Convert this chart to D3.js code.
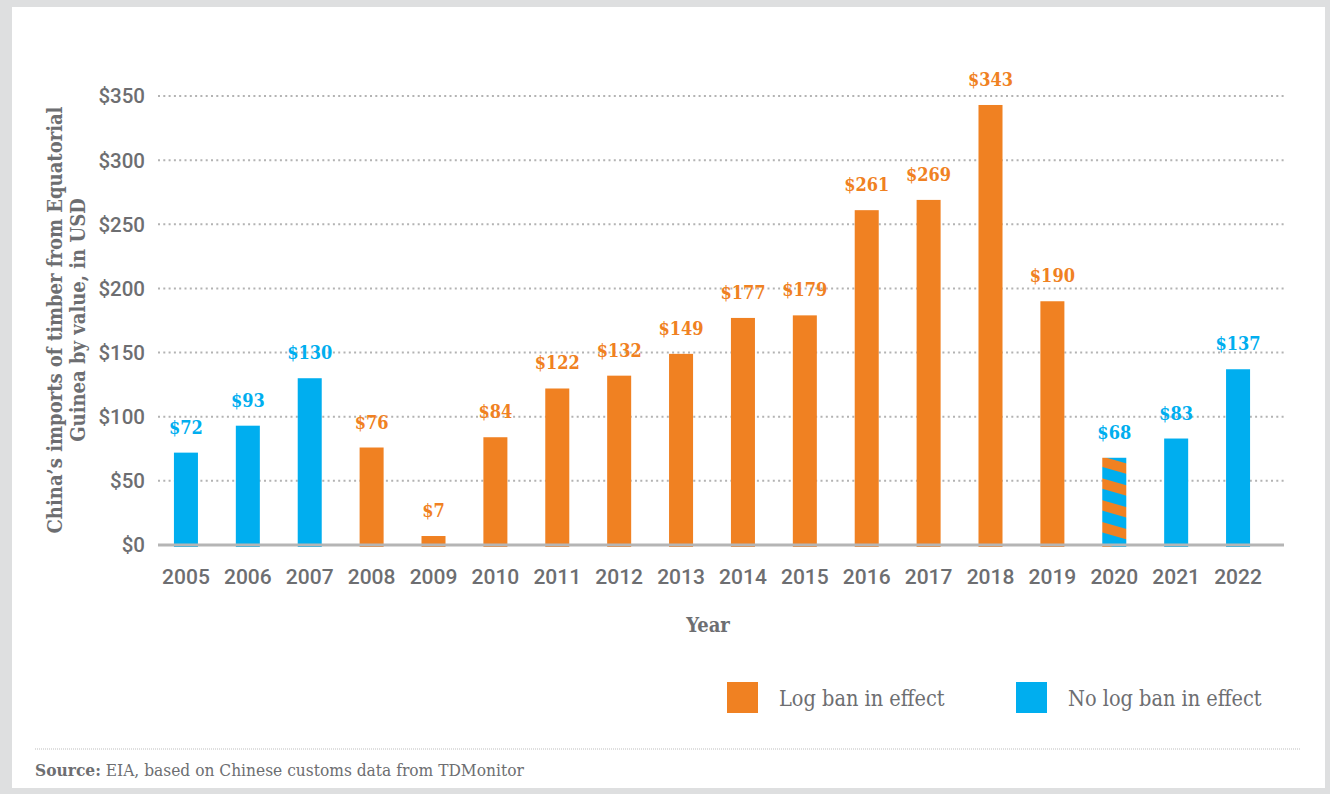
<!DOCTYPE html>
<html>
<head>
<meta charset="utf-8">
<script src="https://cdn.jsdelivr.net/npm/d3@7"></script>
<style>
  html, body { margin: 0; padding: 0; background: #dedfe0; }
  svg { display: block; }
</style>
</head>
<body>
<svg id="chart" width="1330" height="794"></svg>
<script>
// Chinese timber imports from Equatorial Guinea, USD
const years = ["2005","2006","2007","2008","2009","2010","2011","2012","2013","2014","2015","2016","2017","2018","2019","2020","2021","2022"];
const values = [72, 93, 130, 76, 7, 84, 122, 132, 149, 177, 179, 261, 269, 343, 190, 68, 83, 137];
// "ban" = log ban in effect, "none" = no log ban, "mixed" = ban lifted during the year
const status = ["none","none","none","ban","ban","ban","ban","ban","ban","ban","ban","ban","ban","ban","ban","mixed","none","none"];
const yTicks = [0, 50, 100, 150, 200, 250, 300, 350];
const legendItems = [
  { key: "ban", label: "Log ban in effect" },
  { key: "none", label: "No log ban in effect" }
];

const ORANGE = "#f08122";
const BLUE = "#00aeef";
const GREY_TEXT = "#6d6e71";
const SLAB = "'DejaVu Serif Condensed', 'DejaVu Serif', serif";
const SANS = "Roboto, 'Noto Sans', sans-serif";

const svg = d3.select("#chart");

// card background inside the grey frame
svg.append("rect").attr("x", 12).attr("y", 7).attr("width", 1313).attr("height", 781).attr("fill", "#ffffff");

// striped fill for the transition year
const defs = svg.append("defs");
const pat = defs.append("pattern")
  .attr("id", "stripes")
  .attr("patternUnits", "userSpaceOnUse")
  .attr("width", 40).attr("height", 21)
  .attr("patternTransform", "rotate(16)");
pat.append("rect").attr("width", 40).attr("height", 21).attr("fill", BLUE);
pat.append("rect").attr("y", 9).attr("width", 40).attr("height", 10).attr("fill", ORANGE);

const x = d3.scaleBand().domain(years).range([155, 1269]).paddingInner(0.612).paddingOuter(0.306);
const y = d3.scaleLinear().domain([0, 350]).range([545, 96]);

const colorFor = s => s === "ban" ? ORANGE : s === "none" ? BLUE : "url(#stripes)";
const labelColor = s => s === "ban" ? ORANGE : BLUE;

// dotted gridlines
svg.append("g").selectAll("line").data(yTicks.filter(t => t > 0)).join("line")
  .attr("x1", 158).attr("x2", 1284)
  .attr("y1", d => y(d)).attr("y2", d => y(d))
  .attr("stroke", "#b3b3b3").attr("stroke-width", 2)
  .attr("stroke-dasharray", "2,3.3");

// y tick labels
svg.append("g").selectAll("text").data(yTicks).join("text")
  .attr("x", 145).attr("y", d => y(d)).attr("dy", "0.36em")
  .attr("text-anchor", "end")
  .attr("font-family", SANS).attr("font-weight", 500).attr("font-size", 20.5)
  .attr("fill", GREY_TEXT)
  .text(d => "$" + d);

const data = years.map((yr, i) => ({ year: yr, value: values[i], status: status[i] }));

// bars
svg.append("g").selectAll("rect").data(data).join("rect")
  .attr("x", d => x(d.year))
  .attr("y", d => y(d.value))
  .attr("width", x.bandwidth())
  .attr("height", d => y(0) - y(d.value) + 2)
  .attr("fill", d => colorFor(d.status));

// baseline
svg.append("line").attr("x1", 158).attr("x2", 1284).attr("y1", 545).attr("y2", 545)
  .attr("stroke", "#b5b5b5").attr("stroke-width", 3);

// value labels
svg.append("g").selectAll("text").data(data).join("text")
  .attr("x", d => x(d.year) + x.bandwidth() / 2)
  .attr("y", d => y(d.value) - 19)
  .attr("text-anchor", "middle")
  .attr("font-family", SLAB).attr("font-weight", "bold").attr("font-size", 18)
  .attr("fill", d => labelColor(d.status))
  .text(d => "$" + d.value);

// x axis (years)
const xAxis = svg.append("g").attr("transform", "translate(0,545)")
  .call(d3.axisBottom(x).tickSize(0).tickPadding(24));
xAxis.select(".domain").remove();
xAxis.selectAll("text")
  .attr("font-family", SANS).attr("font-weight", 500).attr("font-size", 21)
  .attr("fill", GREY_TEXT);

// axis titles
svg.append("text").attr("x", 708).attr("y", 632).attr("text-anchor", "middle")
  .attr("font-family", SLAB).attr("font-weight", "bold").attr("font-size", 20)
  .attr("fill", GREY_TEXT).text("Year");

const yTitle = svg.append("text")
  .attr("transform", "translate(0,320) rotate(-90)")
  .attr("text-anchor", "middle")
  .attr("font-family", SLAB).attr("font-weight", "bold").attr("font-size", 20)
  .attr("fill", GREY_TEXT);
yTitle.append("tspan").attr("x", 0).attr("y", 62).text("China\u2019s imports of timber from Equatorial");
yTitle.append("tspan").attr("x", 0).attr("y", 85).text("Guinea by value, in USD");

// legend
const legendX = [727, 1016];
const lg = svg.append("g").selectAll("g").data(legendItems).join("g")
  .attr("transform", (d, i) => `translate(${legendX[i]},682)`);
lg.append("rect").attr("width", 31).attr("height", 31)
  .attr("fill", d => d.key === "ban" ? ORANGE : BLUE);
lg.append("text").attr("x", 52).attr("y", 24)
  .attr("font-family", SLAB).attr("font-size", 21.5)
  .attr("fill", GREY_TEXT).text(d => d.label);

// source note
svg.append("line").attr("x1", 35).attr("x2", 1300).attr("y1", 749).attr("y2", 749)
  .attr("stroke", "#bdbdbd").attr("stroke-width", 1).attr("stroke-dasharray", "1,1");
const src = svg.append("text").attr("x", 35).attr("y", 776)
  .attr("font-family", SLAB).attr("font-size", 17.2).attr("fill", GREY_TEXT);
src.append("tspan").attr("font-weight", "bold").text("Source:");
src.append("tspan").text(" EIA, based on Chinese customs data from TDMonitor");
</script>
</body>
</html>
